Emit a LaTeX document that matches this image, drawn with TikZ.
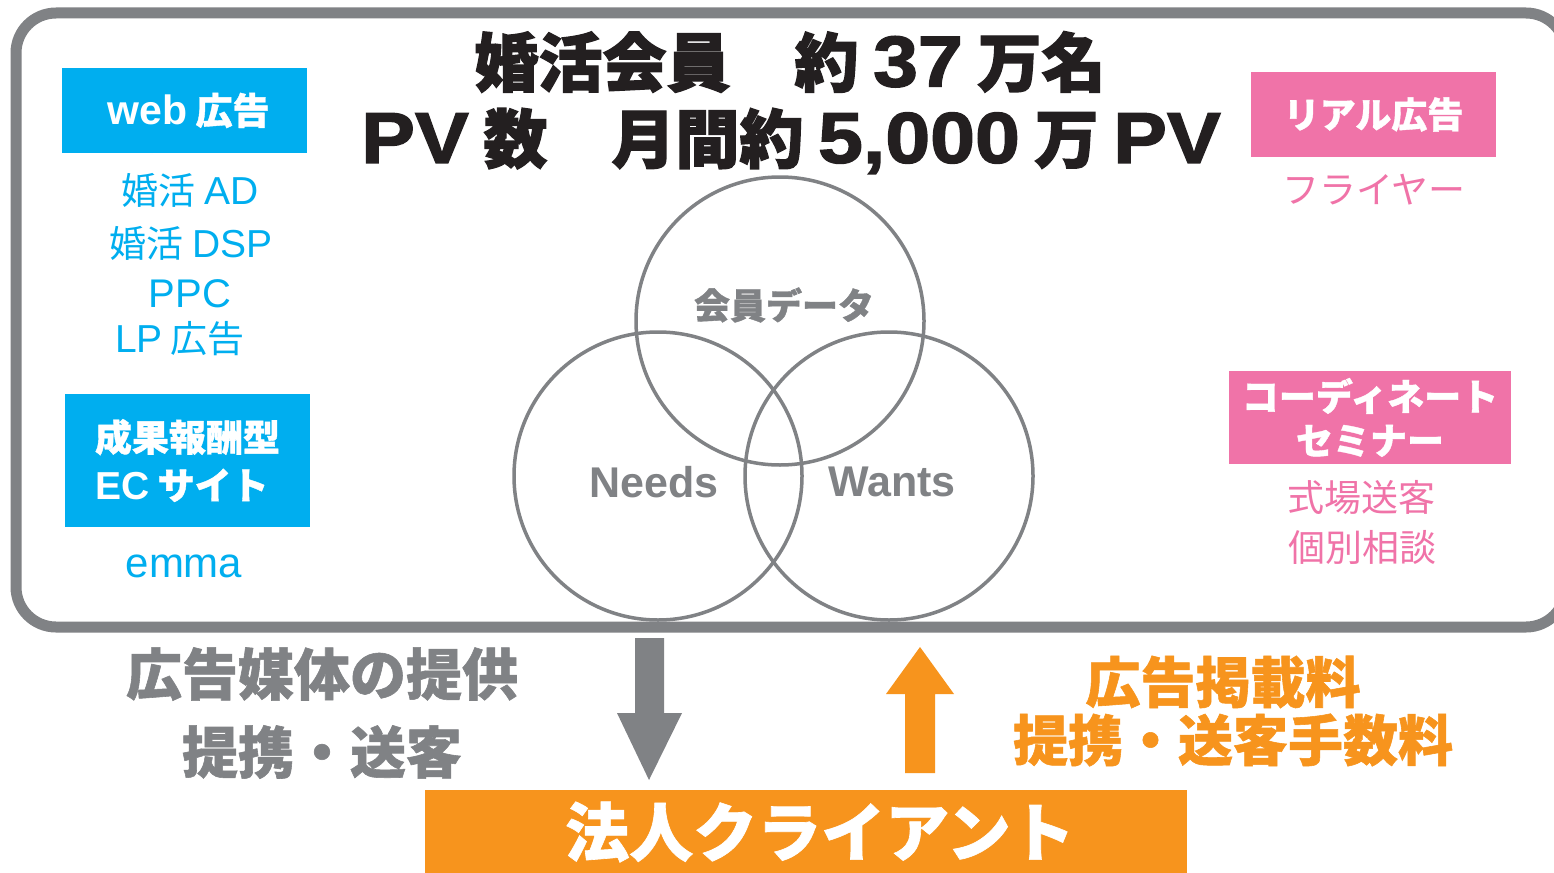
\documentclass[tikz,border=0pt]{standalone}
\usepackage{fontspec}
\newfontfamily\jp[BoldFeatures={FakeBold=1}]{Noto Sans CJK JP}
\newfontfamily\jph[BoldFeatures={FakeBold=2}]{Noto Sans CJK JP}
\newfontfamily\lat{Liberation Sans}
\newfontfamily\lath[FakeStretch=1.12, BoldFeatures={FakeBold=2}]{Liberation Sans}
\definecolor{cyanc}{RGB}{0,174,239}
\definecolor{pinkc}{RGB}{240,115,168}
\definecolor{orangec}{RGB}{247,148,29}
\definecolor{grayc}{RGB}{128,130,133}
\definecolor{darkc}{RGB}{35,31,32}
\newcommand{\fsz}[1]{\fontsize{#1}{#1}\selectfont}
\newcommand{\tl}[1]{{\lath\bfseries\fsz{72}#1}}
\tikzset{
  lbl/.style={inner sep=0pt, font=\jp},
  boxc/.style={fill=cyanc, inner sep=0pt, text=white, font=\jp\bfseries},
  boxp/.style={fill=pinkc, inner sep=0pt, text=white, font=\jp\bfseries},
  venn/.style={draw=grayc, line width=3.5pt, circle, inner sep=0pt, minimum size=288pt},
}
\begin{document}
\begin{tikzpicture}[x=1pt,y=-1pt]
\useasboundingbox (0,0) rectangle (1554,872);
\fill[white] (0,0) rectangle (1554,872);
% frame
\draw[grayc, line width=11pt, rounded corners=40pt] (16,13) rectangle (1566,627);
% title
\node[lbl, text=darkc, font=\jph\bfseries\fsz{64}] (t1) at (790,62) {婚活会員　約 \tl{37} 万名};
\node[lbl, text=darkc, font=\jph\bfseries\fsz{64}] (t2) at (791,141) {\tl{PV} 数　月間約 \tl{5,000} 万 \tl{PV}};
% left column
\node[boxc, minimum width=245pt, minimum height=85pt, font=\jp\bfseries\fsz{37}] (web) at (184.5,110.5) {\hspace*{8pt}{\lat\bfseries\fsz{41}web} 広告};
\node[lbl, text=cyanc, font=\jp\fsz{37}] (w1) at (190,190) {婚活 {\lat\fsz{39}AD}};
\node[lbl, text=cyanc, font=\jp\fsz{37}] (w2) at (191,243) {婚活 {\lat\fsz{39}DSP}};
\node[lbl, text=cyanc, font=\lat\fsz{40}] (w3) at (190,294) {PPC};
\node[lbl, text=cyanc, font=\jp\fsz{37}] (w4) at (180,339) {{\lat\fsz{39}LP} 広告};
\node[boxc, minimum width=245pt, minimum height=133pt, align=left, font=\jp\bfseries\fontsize{37}{48}\selectfont] (ec) at (187.5,460.5) {成果報酬型\\{\lat\bfseries\fsz{39}EC} サイト};
\node[lbl, text=cyanc, font=\lat\fsz{42}] (emma) at (184,566) {emma};
% right column
\node[boxp, minimum width=245pt, minimum height=85pt, font=\jp\bfseries\fsz{36}] (real) at (1373.5,114.5) {リアル広告};
\node[lbl, text=pinkc, font=\jp\fsz{37}] (fly) at (1374,190) {フライヤー};
\node[boxp, minimum width=282pt, minimum height=93pt, align=center, font=\jp\bfseries\fontsize{37}{44}\selectfont] (cs) at (1370,417.5) {コーディネート\\セミナー};
\node[lbl, text=pinkc, font=\jp\fsz{37}] (r1) at (1361,498) {式場送客};
\node[lbl, text=pinkc, font=\jp\fsz{37}] (r2) at (1362,547) {個別相談};
% venn
\node[venn] (ctop) at (780,321) {};
\node[venn] (cleft) at (658,476) {};
\node[venn] (cright) at (889,476) {};
\node[lbl, text=grayc, font=\jp\bfseries\fsz{36}] (data) at (784,305) {会員データ};
\node[lbl, text=grayc, font=\lat\bfseries\fsz{43}] (needs) at (654,482) {Needs};
\node[lbl, text=grayc, font=\lat\bfseries\fsz{43}] (wants) at (892,482) {Wants};
% arrows
\fill[grayc] (635,638) -- (664,638) -- (664,713) -- (682,713) -- (649,780) -- (617,713) -- (635,713) -- cycle;
\fill[orangec] (905,773) -- (935,773) -- (935,694) -- (954,694) -- (920,647) -- (886,694) -- (905,694) -- cycle;
% bottom labels
\node[lbl, text=grayc, font=\jp\bfseries\fsz{56}] (l1) at (322,674) {広告媒体の提供};
\node[lbl, text=grayc, font=\jp\bfseries\fsz{56}] (l2) at (322,752) {提携・送客};
\node[lbl, text=orangec, font=\jp\bfseries\fsz{55}] (o1) at (1223,682) {広告掲載料};
\node[lbl, text=orangec, font=\jp\bfseries\fsz{55}] (o2) at (1233,740) {提携・送客手数料};
\node[fill=orangec, inner sep=0pt, minimum width=762pt, minimum height=84pt, text=white, font=\jp\bfseries\fsz{64}] (client) at (806,832) {\hspace*{28pt}法人クライアント};
\end{tikzpicture}
\end{document}
